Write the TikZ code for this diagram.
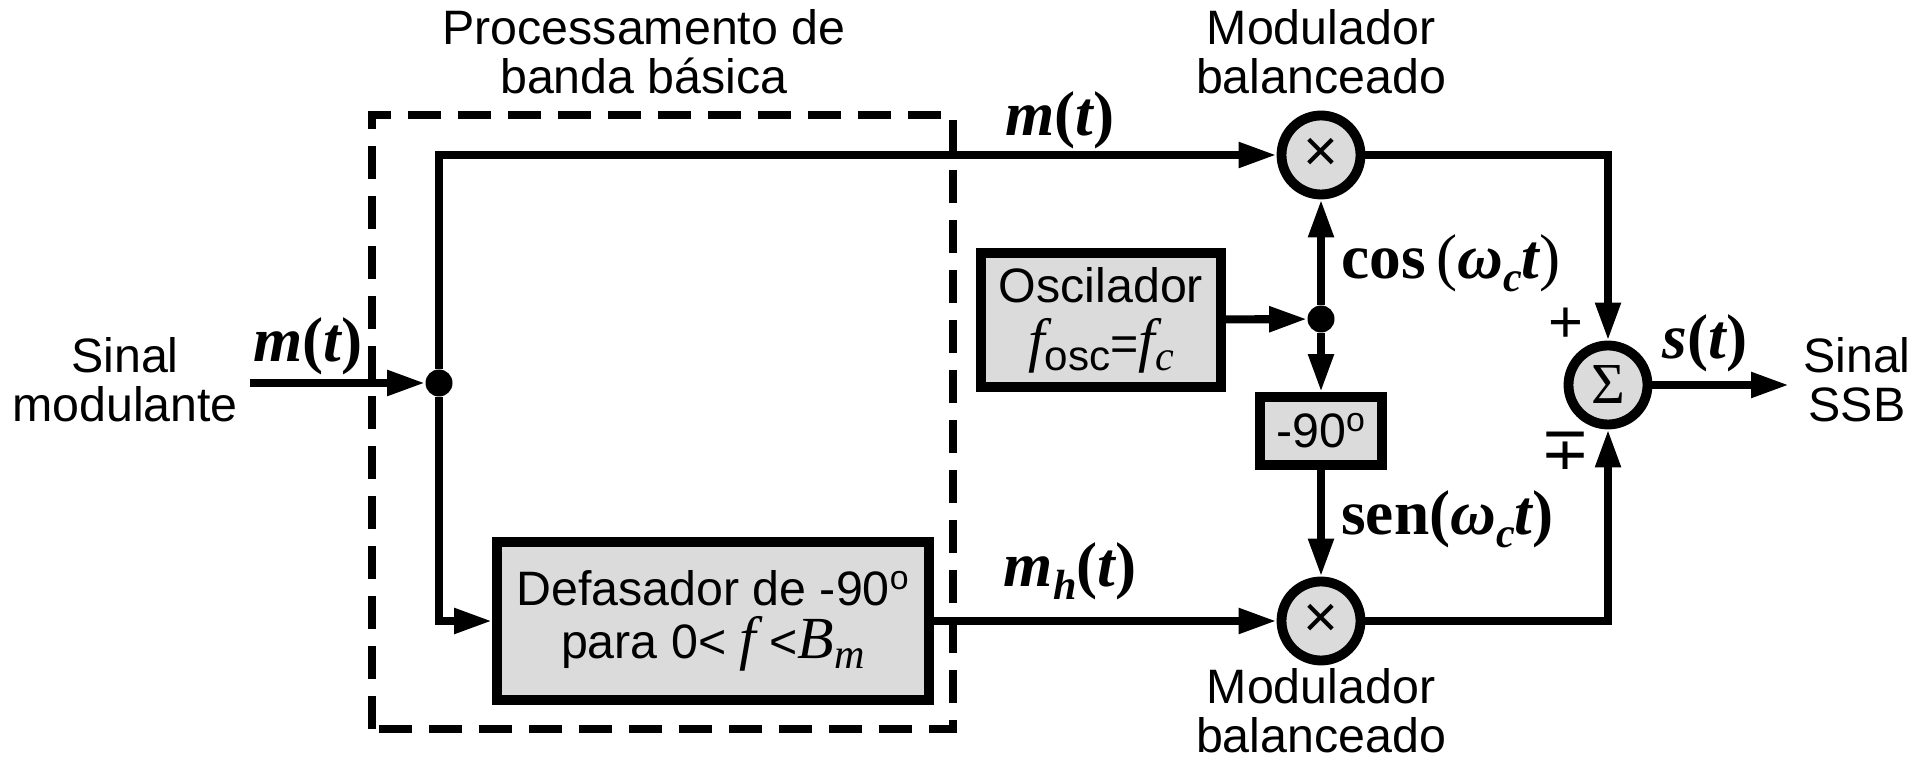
\documentclass[tikz,border=0pt]{standalone}
\usepackage{fontspec}
\setmainfont{Liberation Sans}
\newfontfamily\tnr{Liberation Serif}
\newfontfamily\dvs{DejaVu Sans}
\usetikzlibrary{arrows.meta}
\newcommand{\bi}[1]{{\tnr\bfseries\itshape #1}}
\newcommand{\bu}[1]{{\tnr\bfseries #1}}
\newcommand{\lo}[1]{\raisebox{-0.4ex}{\fontsize{24}{24}\selectfont #1}}
\newcommand{\vbig}[1]{{\fontsize{34}{34}\selectfont\tnr\itshape #1}}

\begin{document}
\begin{tikzpicture}[blk/.style={draw, line width=5.6pt, fill=black!14, inner sep=0pt},
  mult/.style={circle, draw, line width=5.6pt, fill=black!14, minimum size=1.58cm, inner sep=0pt},
  arr/.style={-{Triangle[length=0.76cm, width=0.48cm]}, line width=4.6pt}]
  \tikzset{dot/.style={circle, fill=black, minimum size=0.54cm, inner sep=0pt}}
  \tikzset{txt/.style={align=center, font=\fontsize{27.5}{28}\selectfont}}
  \tikzset{sig/.style={font=\fontsize{36}{36}\selectfont, inner sep=0pt}}
  \useasboundingbox (0,0) rectangle (38.3,15.22);
  % baseband processing (dashed)
  \draw[line width=4pt, dash pattern=on 0.66cm off 0.34cm] (7.44,0.64) rectangle (19.06,12.92);
  % blocks
  \node[dot] (j1) at (8.78,7.56) {};
  \coordinate (in) at (5.0,7.56);
  \node[blk, align=center, font=\fontsize{27.5}{30}\selectfont, minimum width=8.64cm, minimum height=3.16cm] (hil) at (14.26,2.80)
    {Defasador de -90\textsuperscript{o}\\para 0< \vbig{f} <\vbig{B}\lo{\tnr\itshape m}};
  \node[mult, font=\fontsize{34}{34}\selectfont] (x1) at (26.42,12.12) {×};
  \node[mult, font=\fontsize{34}{34}\selectfont] (x2) at (26.42,2.80) {×};
  \node[blk, align=center, font=\fontsize{27.5}{33}\selectfont, minimum width=4.8cm, minimum height=2.68cm] (osc) at (22.02,8.82)
    {Oscilador\\\vbig{f}\lo{osc}=\vbig{f}\lo{\tnr\itshape c}};
  \node[dot] (j2) at (26.42,8.84) {};
  \node[blk, txt, minimum width=2.44cm, minimum height=1.36cm] (ph) at (26.42,6.60) {-90\textsuperscript{o}};
  \node[mult, font=\fontsize{33}{33}\selectfont\tnr] (sum) at (32.16,7.52) {Σ};
  \coordinate (out) at (35.78,7.52);
  % connections
  \draw[arr] (in) -- (j1);
  \draw[arr] (j1) |- (x1);
  \draw[arr] (j1) |- (hil);
  \draw[arr] (hil) -- (x2);
  \draw[arr] (osc) -- (j2);
  \draw[arr] (j2) -- (x1);
  \draw[arr] (j2) -- (ph);
  \draw[arr] (ph) -- (x2);
  \draw[arr] (x1) -| (sum);
  \draw[arr] (x2) -| (sum);
  \draw[arr] (sum) -- (out);
  % texts
  \node[txt] (lin) at (2.50,7.62) {Sinal\\modulante};
  \node[txt] (lout) at (37.14,7.62) {Sinal\\SSB};
  \node[txt] (lbb) at (12.88,14.18) {Processamento de\\banda básica};
  \node[txt] (lm1) at (26.42,14.18) {Modulador\\balanceado};
  \node[txt] (lm2) at (26.42,1.0) {Modulador\\balanceado};
  \node[sig] (sm0) at (6.16,8.30) {\bi{m}\bu{(}\bi{t}\bu{)}};
  \node[sig] (sm1) at (21.2,12.82) {\bi{m}\bu{(}\bi{t}\bu{)}};
  \node[sig] (smh) at (21.4,3.80) {\bi{m}\lo{\bi{h}}\bu{(}\bi{t}\bu{)}};
  \node[sig, anchor=west] (scos) at (26.82,9.96) {\bu{cos}\,{\tnr(}\bi{ω}\lo{\bi{c}}\bi{t}{\tnr)}};
  \node[sig, anchor=west] (ssen) at (26.82,4.84) {\bu{sen}\bu{(}\bi{ω}\lo{\bi{c}}\bi{t}\bu{)}};
  \node[sig] (sout) at (34.10,8.36) {\bi{s}\bu{(}\bi{t}\bu{)}};
  \node[font=\fontsize{34}{34}\selectfont] (pl) at (31.32,8.72) {+};
  \node[font=\fontsize{34}{34}\selectfont\dvs] (mp) at (31.32,6.20) {∓};
\end{tikzpicture}
\end{document}
